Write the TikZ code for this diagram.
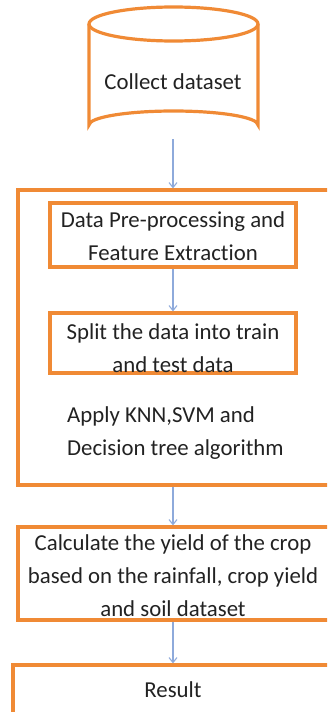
\documentclass[tikz,border=0pt]{standalone}
\usepackage{fontspec}
\setmainfont[Ligatures=NoCommon]{Carlito}
\usetikzlibrary{arrows.meta}
\definecolor{boxorange}{HTML}{F08A35}
\definecolor{arrowblue}{HTML}{8EAADB}
\definecolor{txt}{HTML}{222222}
\tikzset{
  obox/.style={draw=boxorange, line width=3.2pt, rectangle, inner sep=0pt},
  lbl/.style={text=txt, font=\fontsize{22.8}{33}\selectfont, align=center, inner sep=0pt},
  flow/.style={draw=arrowblue, line width=1.1pt, -{Straight Barb[length=5pt,width=8pt]}},
}
\begin{document}
\begin{tikzpicture}[x=1pt,y=-1pt]
\useasboundingbox (0,0) rectangle (327,712);
\begin{scope}
\clip (0,0) rectangle (327,712);
% cylinder
\draw[boxorange, line width=3.2pt]
  (89,24) -- (89,125) arc[start angle=180, end angle=360, x radius=84.5, y radius=14] -- (258,24);
\draw[boxorange, line width=3.2pt] (173.5,24) ellipse[x radius=84.5, y radius=17];
\coordinate (cylbot) at (173,139);
\node[lbl] (cyl) at (173,82) {Collect dataset};
% big box
\node[obox, minimum width=322pt, minimum height=295pt] (big) at (179,337.5) {};
\node[obox, minimum width=246pt, minimum height=64pt] (b1) at (173,235) {};
\node[lbl] (t1) at (173,236) {Data Pre-processing and\\Feature Extraction};
\node[obox, minimum width=246pt, minimum height=60pt] (b2) at (173,343) {};
\node[lbl] (t2) at (173,348) {Split the data into train\\and test data};
\node[lbl, align=left, anchor=west] (t3) at (67,433) {Apply KNN,SVM and\\Decision tree algorithm};
% calculate box
\node[obox, minimum width=322pt, minimum height=93pt] (b3) at (179,573.5) {};
\node[lbl] (t4) at (173,576) {Calculate the yield of the crop\\based on the rainfall, crop yield\\and soil dataset};
% result
\node[obox, minimum width=327pt, minimum height=70pt] (b4) at (176.5,700) {};
\node[lbl] (t5) at (173,690) {Result};
% arrows
\draw[flow] (cylbot) -- (cylbot |- big.north);
\draw[flow] (b1.south) -- (b2.north);
\draw[flow] (cylbot |- big.south) -- (cylbot |- b3.north);
\draw[flow] (cylbot |- b3.south) -- (cylbot |- b4.north);
\end{scope}
\end{tikzpicture}
\end{document}
